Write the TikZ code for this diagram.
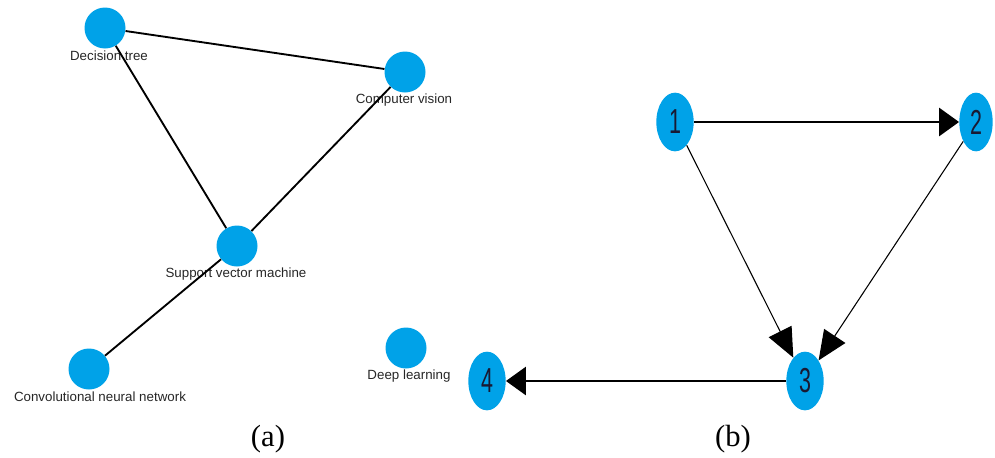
\documentclass[tikz,border=0pt]{standalone}
\usepackage{fontspec}
\setmainfont{Liberation Serif}
\newfontfamily\labfont{Liberation Sans}
\usetikzlibrary{arrows.meta,shapes.geometric}
\definecolor{nodeblue}{RGB}{0,162,232}
\definecolor{digitcol}{RGB}{25,25,50}
\tikzset{
  cnode/.style={circle,fill=nodeblue,minimum size=30.75pt,inner sep=0pt},
  clabel/.style={font=\labfont\fontsize{10pt}{12pt}\selectfont,text=black!85,inner sep=0pt},
  enode/.style={ellipse,fill=nodeblue,minimum width=28pt,minimum height=44pt,inner sep=0pt,
    font=\labfont\fontsize{26pt}{28pt}\selectfont,text=digitcol},
  uedge/.style={line width=1.4pt,black},
  thickarrow/.style={line width=2.2pt,black,-{Triangle[length=15pt,width=21pt]}},
  thinarrow/.style={line width=0.8pt,black,-{Triangle[length=22pt,width=19pt]}},
  caption/.style={font=\fontsize{23pt}{26pt}\selectfont,inner sep=0pt}
}
\begin{document}
\begin{tikzpicture}[x=0.75pt,y=-0.75pt]
\useasboundingbox (0,0) rectangle (995,457);
% panel (a)
\node[cnode] (dt) at (105,28) {};
\node[cnode] (cv) at (405,72) {};
\node[cnode] (svm) at (237,246) {};
\node[cnode] (cnn) at (89,369) {};
\node[cnode] (dl) at (406,348) {};
\node[clabel] (dtl) at (109,56) {Decision tree};
\node[clabel] (cvl) at (404,100) {Computer vision};
\node[clabel] (svml) at (236,274) {Support vector machine};
\node[clabel] (cnnl) at (100,397) {Convolutional neural network};
\node[clabel] (dll) at (409,376) {Deep learning};
\draw[uedge] (dt) -- (cv);
\draw[uedge] (dt) -- (svm);
\draw[uedge] (cv) -- (svm);
\draw[uedge] (svm) -- (cnn);
% panel (b)
\node[enode] (n1) at (675,122) {\scalebox{0.62}[1]{1}};
\node[enode,minimum width=25pt] (n2) at (976,122) {\scalebox{0.62}[1]{2}};
\node[enode] (n3) at (805,381) {\scalebox{0.62}[1]{3}};
\node[enode] (n4) at (487,381) {\scalebox{0.62}[1]{4}};
\draw[thickarrow] (n1) -- (n2);
\draw[thinarrow] (n1) -- (n3);
\draw[thinarrow] (n2) -- (n3);
\draw[thickarrow] (n3) -- (n4);
% captions
\node[caption] (capa) at (268,439) {(a)};
\node[caption] (capb) at (733,439) {(b)};
\end{tikzpicture}
\end{document}
